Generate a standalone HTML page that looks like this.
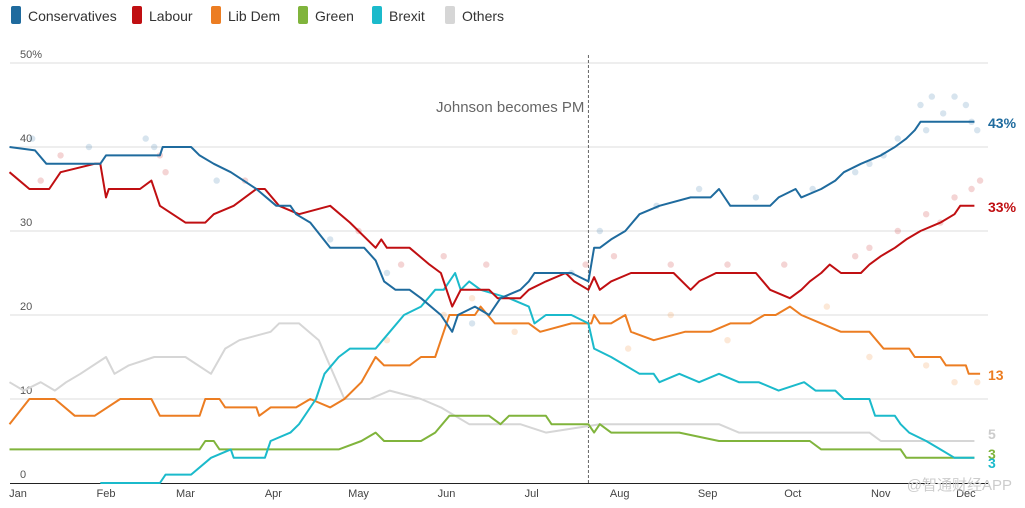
<!DOCTYPE html>
<html><head><meta charset="utf-8"><style>
body{margin:0;background:#fff;font-family:"Liberation Sans",sans-serif}
svg text{font-family:"Liberation Sans",sans-serif}
</style></head><body>
<svg id="chart" width="1025" height="503" viewBox="0 0 1025 503" xmlns="http://www.w3.org/2000/svg">
<g id="legend"></g>
<g id="grid"></g>
<g id="dots"></g>
<g id="series"></g>
<g id="labels"></g>
<text x="1012" y="490" text-anchor="end" font-size="15" fill="#ccc" style="font-family:'Liberation Sans','Noto Sans CJK SC',sans-serif">@智通财经APP</text>
</svg>
<script>
const months=["Jan","Feb","Mar","Apr","May","Jun","Jul","Aug","Sep","Oct","Nov","Dec"];
const monthDays=[0,31,59,90,120,151,181,212,243,273,304,334];
const yTicks=[0,10,20,30,40,50];
const pmDay=201;
const conDays=[-3,6,10,29,31,50,51,61,64,69,75,84,91,96,98,103,110,122,126,129,133,138,142,149,153,155,161,166,170,177,180,182,195,201,203,205,209,214,219,226,237,244,247,251,265,268,274,276,283,288,291,297,304,309,313,316,318,337];
const conVals=[40,39.6,38,38,39,39,40,40,39,38,37,35,33,33,32,31,28,28,26.5,24,23,23,22,20,18,20,21,20,22,23,24,25,25,24,28,28,29,30,32,33,34,34,35,33,33,34,35,34,35,36,37,38,39,40,41,42,43,43];
const labDays=[-3,4,11,15,27,29,31,32,43,47,50,59,66,69,76,84,87,92,99,110,117,126,128,130,138,145,149,153,156,166,169,177,180,186,193,196,201,203,205,209,216,231,237,240,246,260,265,272,276,279,283,286,290,297,300,304,309,313,318,325,330,332,337];
const labVals=[37,35,35,37,38,38,34,35,35,36,33,31,31,32,33,35,35,33,32,33,31,28,29,28,28,26,25,21,23,23,22,22,23,24,25,24,23,24.5,23,24,25,25,23,24,25,25,23,22,23,24,25,26,25,25,26,27,28,29,30,31,32,33,33];
const ldDays=[-3,4,13,20,27,36,47,50,64,66,71,73,84,85,89,98,103,110,115,121,126,129,138,142,147,150,152,161,163,168,180,184,195,202,203,205,209,214,216,224,235,244,251,258,263,267,272,276,283,290,300,305,314,316,325,327,334,335,339];
const ldVals=[7,10,10,8,8,10,10,8,8,10,10,9,9,8,9,9,10,9,10,12,15,14,14,15,15,18,20,20,21,19,19,18,19,19,20,19,19,20,18,17,18,18,19,19,20,20,21,20,19,18,18,16,16,15,15,14,14,13,13];
const grnDays=[-3,64,66,69,71,113,121,126,129,142,147,152,166,170,173,186,188,195,201,203,205,209,233,247,279,283,311,313,337];
const grnVals=[4,4,5,5,4,4,5,6,5,5,6,8,8,7,8,8,7,7,7,6,7,6,6,5,5,4,4,3,3];
const brxDays=[29,50,52,61,68,75,76,87,89,96,99,105,108,113,117,126,131,136,142,147,150,154,156,159,163,173,180,182,186,195,201,203,209,214,219,224,226,233,240,247,254,261,268,277,281,288,291,300,302,309,311,314,320,325,330,337];
const brxVals=[0,0,1,1,3,4,3,3,5,6,7,10,13,15,16,16,18,20,21,23,23,25,23,24,23,22,21,19,20,20,19,16,15,14,13,13,12,13,12,13,12,12,11,12,11,11,10,10,8,8,7,6,5,4,3,3];
const othDays=[-3,2,8,13,17,22,31,34,39,48,59,68,73,78,89,92,99,106,115,124,131,142,149,159,170,177,186,205,247,254,300,304,337];
const othVals=[12,11,12,11,12,13,15,13,14,15,15,13,16,17,18,19,19,17,10,10,11,10,9,7,7,7,6,7,7,6,6,5,5];
const conDotDays=[5,25,45,48,70,110,130,160,195,205,225,240,260,280,295,305,310,318,322,326,330,334,336,338,320,300];
const conDotVals=[41,40,41,40,36,29,25,19,25,30,33,35,34,35,37,39,41,45,46,44,46,45,43,42,42,38];
const labDotDays=[8,15,50,52,80,120,135,150,165,200,210,230,250,270,295,300,310,320,325,330,336,339];
const labDotVals=[36,39,39,37,36,30,26,27,26,26,27,26,26,26,27,28,30,32,31,34,35,36];
const ldDotDays=[130,150,160,175,215,230,250,285,300,320,330,338];
const ldDotVals=[17,20,22,18,16,20,17,21,15,14,12,12];
const partyNames=["Conservatives","Labour","Lib Dem","Green","Brexit","Others"];
const partyColors=["#1f6b9e","#c00f12","#ec7d22","#80b43c","#1bbacb","#d6d6d6"];
const endLabels=["43%","33%","13","3","3","5"];
const endVals=[43,33,13,3,3,5];

const NS="http://www.w3.org/2000/svg";
const x=d=>18+d*2.838;
const y=v=>483-v*8.4;
function mk(tag,attrs,parent,txt){const e=document.createElementNS(NS,tag);for(const k in attrs)e.setAttribute(k,attrs[k]);if(txt!=null)e.textContent=txt;parent.appendChild(e);return e;}
const legend=document.getElementById('legend');
const lx=[11,132,211,298,372,445];
partyNames.forEach((n,i)=>{
  const g=mk('g',{},legend);
  
  
  mk('rect',{x:lx[i],y:6,width:10,height:18,rx:2,fill:partyColors[i]},g);
  mk('text',{x:lx[i]+17,y:21,'font-size':14,fill:'#333'},g,n);
});
const grid=document.getElementById('grid');
yTicks.forEach(t=>{
  if(t>0){const l=mk('line',{x1:10,x2:988,y1:y(t),y2:y(t),stroke:'#ddd','stroke-width':1},grid);
  }
  const tx=mk('text',{x:20,y:y(t)-5,'font-size':11,fill:'#555'},grid,t===50?'50%':String(t));
  
});
const base=mk('line',{x1:10,x2:988,y1:483.5,y2:483.5,stroke:'#222','stroke-width':1},grid);

months.forEach((m,i)=>{
  const tx=mk('text',{x:x(monthDays[i]),y:497,'font-size':11,fill:'#444','text-anchor':'middle'},grid,m);
  
});
const pm=mk('line',{x1:x(pmDay),x2:x(pmDay),y1:55,y2:483,stroke:'#666','stroke-width':1,'stroke-dasharray':'3,2'},grid);

const pmt=mk('text',{x:x(pmDay)-4,y:112,'font-size':15,fill:'#666','text-anchor':'end'},grid,'Johnson becomes PM');


const dots=document.getElementById('dots');
[[conDotDays,conDotVals,0],[labDotDays,labDotVals,1],[ldDotDays,ldDotVals,2]].forEach(([ds,vs,i])=>{
  ds.forEach((d,j)=>{
    const c=mk('circle',{cx:x(d),cy:y(vs[j]),r:3.2,fill:partyColors[i],'fill-opacity':0.18},dots);
    
    
  });
});

const series=document.getElementById('series');
const sets=[[conDays,conVals],[labDays,labVals],[ldDays,ldVals],[grnDays,grnVals],[brxDays,brxVals],[othDays,othVals]];
[5,2,3,4,1,0].forEach(i=>{
  const [ds,vs]=sets[i];
  const p=mk('polyline',{points:ds.map((d,j)=>x(d).toFixed(1)+','+y(vs[j]).toFixed(1)).join(' '),fill:'none',stroke:partyColors[i],'stroke-width':2,'stroke-linejoin':'round'},series);
  
  
});
const labels=document.getElementById('labels');
const offs=[4,4,4,-1,8,-4];
endLabels.forEach((l,i)=>{
  const t=mk('text',{x:988,y:y(endVals[i])+offs[i]+2,'font-size':14,'font-weight':'bold',fill:partyColors[i]==='#d6d6d6'?'#ccc':partyColors[i]},labels,l);
  
  
});
</script>
</body></html>
